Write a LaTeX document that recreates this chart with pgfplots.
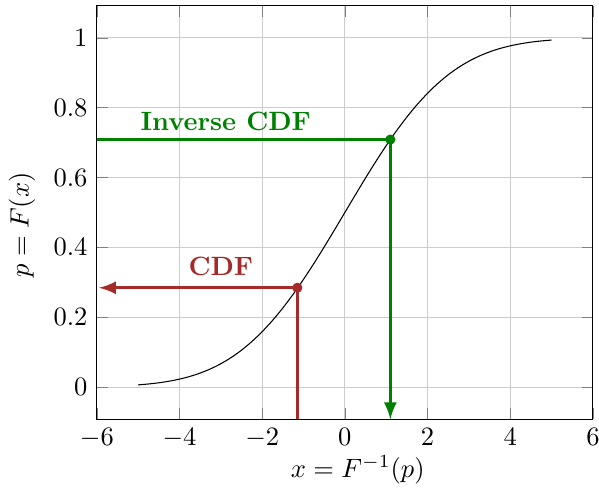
\documentclass[border=0pt]{standalone}
\usepackage{pgfplots}
\pgfplotsset{compat=1.18}
\definecolor{cdfred}{RGB}{165,42,42}
\definecolor{invgreen}{RGB}{0,128,0}
\begin{document}
\begin{tikzpicture}[trim right=(tr)]
\begin{axis}[
  name=ax,
  scale only axis,
  width=187pt, height=156pt,
  xmin=-6, xmax=6,
  ymin=-0.0926, ymax=1.0926,
  grid=major,
  major grid style={gray!40},
  xlabel={$x = F^{-1}(p)$},
  ylabel={$p = F(x)$},
  xlabel style={at={(ticklabel cs:0.526)}, yshift=4pt},
  ylabel style={at={(ticklabel cs:0.47)}},
  clip=true,
]
\addplot[black, smooth, no markers] coordinates {
(-5,0.00621) (-4.75,0.00877) (-4.5,0.01222) (-4.25,0.01679) (-4,0.02275)
(-3.75,0.03040) (-3.5,0.04006) (-3.25,0.05208) (-3,0.06681) (-2.75,0.08457)
(-2.5,0.10565) (-2.25,0.13029) (-2,0.15866) (-1.75,0.19079) (-1.5,0.22663)
(-1.25,0.26599) (-1,0.30854) (-0.75,0.35383) (-0.5,0.40129) (-0.25,0.45026)
(0,0.5) (0.25,0.54974) (0.5,0.59871) (0.75,0.64617) (1,0.69146)
(1.25,0.73401) (1.5,0.77337) (1.75,0.80921) (2,0.84134) (2.25,0.86971)
(2.5,0.89435) (2.75,0.91543) (3,0.93319) (3.25,0.94792) (3.5,0.95994)
(3.75,0.96960) (4,0.97725) (4.25,0.98321) (4.5,0.98778) (4.75,0.99123)
(5,0.99379)
};
% CDF (red)
\addplot[cdfred, very thick, no markers] coordinates {(-1.15,-0.0926) (-1.15,0.2843)};
\addplot[cdfred, very thick, -latex, no markers] coordinates {(-1.15,0.2843) (-5.95,0.2843)};
\addplot[cdfred, only marks, mark=*, mark size=1.7pt] coordinates {(-1.15,0.2843)};
% Inverse CDF (green)
\addplot[invgreen, very thick, no markers] coordinates {(-6,0.7088) (1.1,0.7088)};
\addplot[invgreen, very thick, -latex, no markers] coordinates {(1.1,0.7088) (1.1,-0.0926)};
\addplot[invgreen, only marks, mark=*, mark size=1.7pt] coordinates {(1.1,0.7088)};
\node[cdfred, font=\bfseries] at (axis cs:-3.0,0.345) {CDF};
\node[invgreen, font=\bfseries] at (axis cs:-2.88,0.762) {Inverse CDF};
\end{axis}
\coordinate (tr) at ([xshift=2.3pt]ax.east);
\path ([yshift=-3pt]current bounding box.south) -- ([yshift=1.9pt]current bounding box.north);
\end{tikzpicture}
\end{document}
